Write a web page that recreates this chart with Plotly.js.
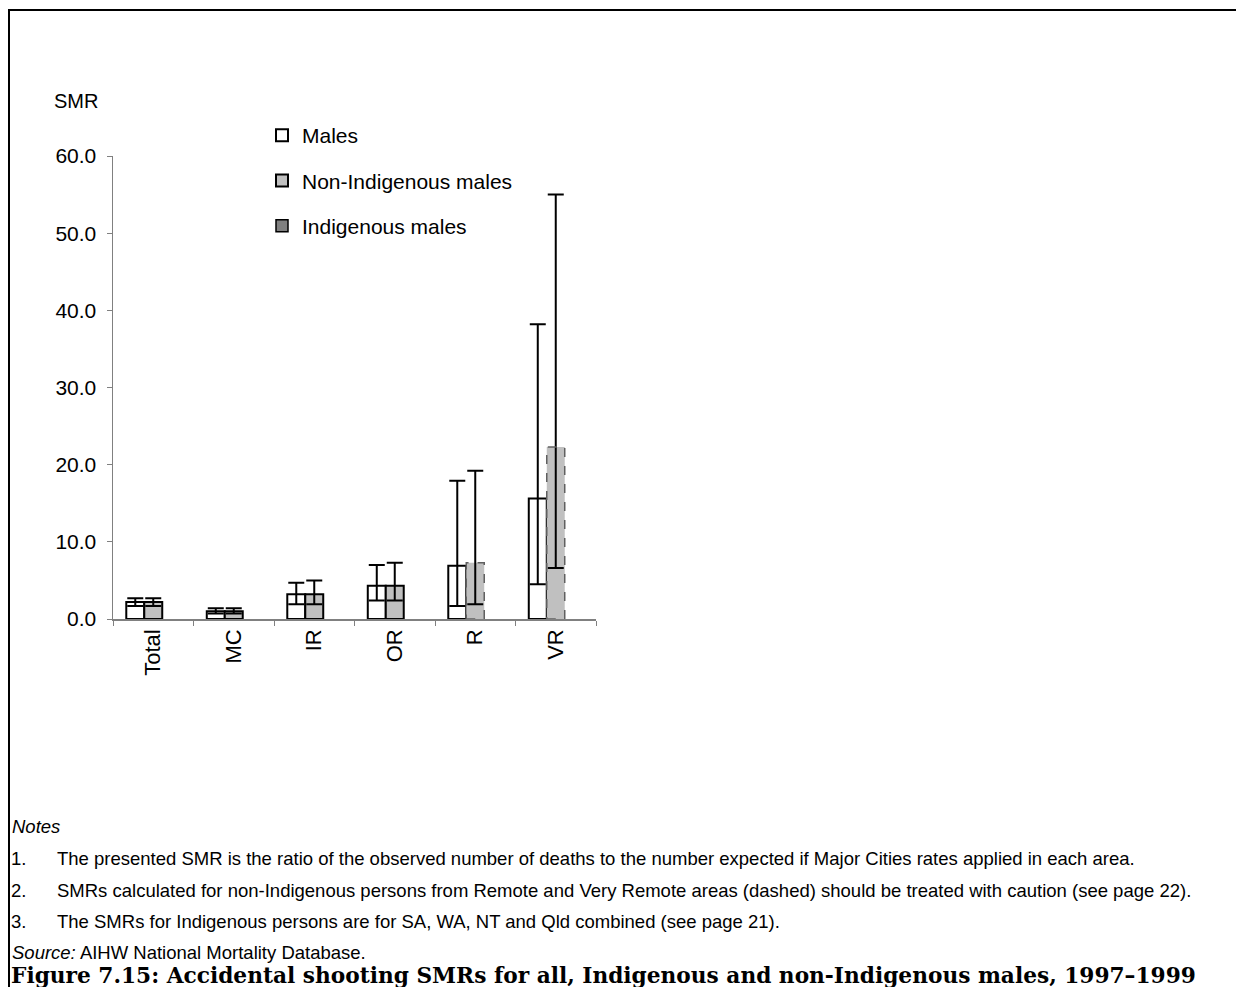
<!DOCTYPE html>
<html>
<head>
<meta charset="utf-8">
<script src="https://cdn.plot.ly/plotly-3.0.1.min.js"></script>
<style>
  html, body { margin: 0; padding: 0; background: #fff; }
  #chart { width: 1236px; height: 987px; }
</style>
</head>
<body>
<div id="chart"></div>
<script>
// ---- Data ----
const categories = ['Total', 'MC', 'IR', 'OR', 'R', 'VR'];
const males      = [2.2, 1.0, 3.2, 4.3, 6.9, 15.6];
const malesLo    = [1.7, 0.7, 1.9, 2.4, 1.7, 4.5];
const malesHi    = [2.7, 1.4, 4.7, 7.0, 17.9, 38.2];
const nonIndig   = [2.2, 1.0, 3.2, 4.3, 7.3, 22.3];
const nonIndigLo = [1.7, 0.7, 1.9, 2.4, 1.9, 6.6];
const nonIndigHi = [2.7, 1.4, 5.0, 7.3, 19.2, 55.0];
const indig      = [null, null, null, null, null, null];
const dashedNonIndig = [false, false, false, false, true, true];
const yTicks = [0, 10, 20, 30, 40, 50, 60];

const notes = [
  'The presented SMR is the ratio of the observed number of deaths to the number expected if Major Cities rates applied in each area.',
  'SMRs calculated for non-Indigenous persons from Remote and Very Remote areas (dashed) should be treated with caution (see page 22).',
  'The SMRs for Indigenous persons are for SA, WA, NT and Qld combined (see page 21).'
];
const figTitle = 'Figure 7.15: Accidental shooting SMRs for all, Indigenous and non-Indigenous males, 1997–1999';

// ---- Layout geometry ----
const W = 1236, H = 987;
const L = 113, R = 596, T = 156, B = 619;
const px = x => (x - L) / (R - L);
const py = y => (B - y) / (B - T);
const FONT = '"Liberation Sans", Arial, sans-serif';
const BARGAP = 0.33;
const slotW = (1 - BARGAP) / 3;

const diff = (a, b) => a.map((v, i) => v - b[i]);

const traces = [
  {
    type: 'bar', name: 'Males', x: categories, y: males, legendgroup: 'a',
    marker: { color: '#ffffff', line: { color: '#000000', width: 2 } },
    error_y: { type: 'data', symmetric: false, array: diff(malesHi, males), arrayminus: diff(males, malesLo),
               color: '#000000', thickness: 2, width: 8 }
  },
  {
    type: 'bar', name: 'Non-Indigenous males', x: categories, y: nonIndig, legendgroup: 'b',
    marker: { color: '#c0c0c0', line: { color: '#000000', width: dashedNonIndig.map(d => d ? 0 : 2) } },
    error_y: { type: 'data', symmetric: false, array: diff(nonIndigHi, nonIndig), arrayminus: diff(nonIndig, nonIndigLo),
               color: '#000000', thickness: 2, width: 8 }
  },
  {
    type: 'bar', name: 'Indigenous males', x: categories, y: indig, legendgroup: 'c',
    marker: { color: '#808080', line: { color: '#000000', width: 1.5 } }
  }
];

// dashed outlines for caution bars (computed from data)
const shapes = [];
nonIndig.forEach((v, i) => {
  if (dashedNonIndig[i]) {
    shapes.push({ type: 'rect', xref: 'x', yref: 'y', x0: i - slotW / 2, x1: i + slotW / 2, y0: 0, y1: v,
                  line: { color: '#606060', width: 1.5, dash: 'dash' }, fillcolor: 'rgba(0,0,0,0)', layer: 'above' });
  }
});
// outer frame (right and bottom edges fall outside the picture)
shapes.push({ type: 'rect', xref: 'paper', yref: 'paper', x0: px(9), x1: px(1260), y0: py(1010), y1: py(10),
              line: { color: '#000000', width: 2 }, fillcolor: 'rgba(0,0,0,0)' });

const NOTE = 18.5;
const annotations = [
  { text: 'SMR', x: px(52), y: py(101), xanchor: 'left', yanchor: 'middle', font: { size: 20 } },
  { text: '<i>Notes</i>', x: px(10), y: py(826), xanchor: 'left', yanchor: 'middle', font: { size: NOTE } }
];
const noteY = [858, 890, 921];
notes.forEach((t, i) => {
  annotations.push({ text: (i + 1) + '.', x: px(9), y: py(noteY[i]), xanchor: 'left', yanchor: 'middle', font: { size: NOTE } });
  annotations.push({ text: t, x: px(55), y: py(noteY[i]), xanchor: 'left', yanchor: 'middle', font: { size: NOTE } });
});
annotations.push({ text: '<i>Source:</i> AIHW National Mortality Database.', x: px(10), y: py(952), xanchor: 'left', yanchor: 'middle', font: { size: NOTE } });
annotations.push({ text: '<b>' + figTitle + '</b>', x: px(9), y: py(975), xanchor: 'left', yanchor: 'middle',
                   font: { size: 21.7, family: '"DejaVu Serif", "Liberation Serif", serif' } });
annotations.forEach(a => { a.xref = 'paper'; a.yref = 'paper'; a.showarrow = false; });

const layout = {
  width: W, height: H,
  margin: { l: L, r: W - R, t: T, b: H - B, pad: 0 },
  paper_bgcolor: '#ffffff', plot_bgcolor: '#ffffff',
  font: { family: FONT, size: 21, color: '#000000' },
  barmode: 'group', bargap: BARGAP, bargroupgap: 0,
  showlegend: true,
  legend: { x: px(262), y: py(115), xanchor: 'left', yanchor: 'top', bgcolor: 'rgba(0,0,0,0)',
            font: { size: 21 }, tracegroupgap: 15, traceorder: 'grouped', itemwidth: 30 },
  xaxis: {
    type: 'category', tickangle: -90, ticks: 'outside', tickson: 'boundaries', ticklen: 5,
    tickcolor: '#808080', showline: true, linecolor: '#808080', linewidth: 1.5,
    showgrid: false, zeroline: false, tickfont: { size: 22 }, fixedrange: true
  },
  yaxis: {
    range: [0, 60], tickvals: yTicks, tickformat: '.1f', ticks: 'outside', ticklen: 5,
    tickcolor: '#808080', showline: true, linecolor: '#808080', linewidth: 1.5,
    showgrid: false, zeroline: false, tickfont: { size: 21 }, ticklabelstandoff: 6
  },
  shapes: shapes,
  annotations: annotations
};

Plotly.newPlot('chart', traces, layout, { staticPlot: true });
</script>
</body>
</html>
